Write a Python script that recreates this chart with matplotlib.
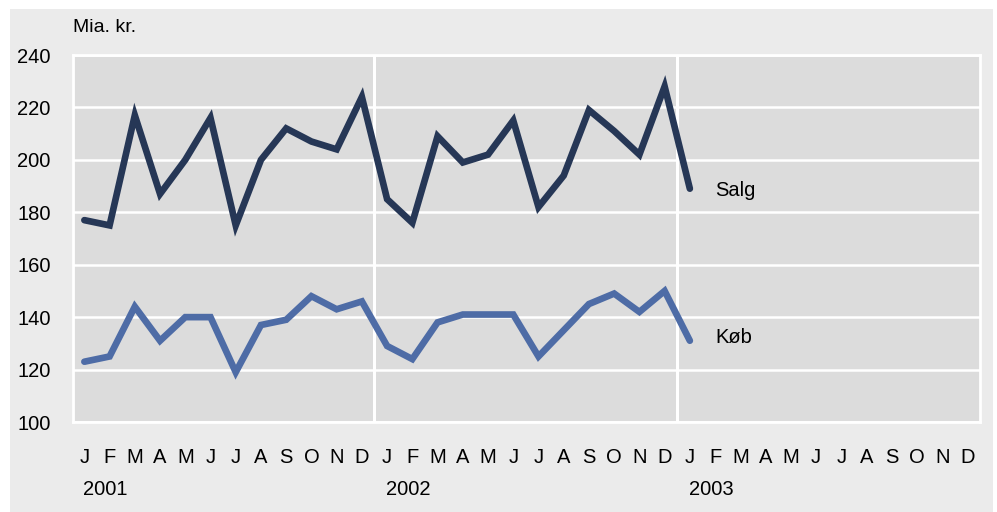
import matplotlib
matplotlib.use("Agg")
from matplotlib import pyplot as plt
from matplotlib.patches import Rectangle

plt.rcParams['font.family'] = ['Liberation Sans', 'DejaVu Sans']

# monthly values, Jan 2001 - Jan 2003
salg = [177, 175, 217, 187, 200, 216, 175, 200, 212, 207, 204, 224,
        185, 176, 209, 199, 202, 215, 182, 194, 219, 211, 202, 228,
        189]
koeb = [123, 125, 144, 131, 140, 140, 119, 137, 139, 148, 143, 146,
        129, 124, 138, 141, 141, 141, 125, 135, 145, 149, 142, 150,
        131]
months = ["J", "F", "M", "A", "M", "J", "J", "A", "S", "O", "N", "D"] * 3
years = ["2001", "2002", "2003"]
yticks = [100, 120, 140, 160, 180, 200, 220, 240]

W, H = 997, 512
fig = plt.figure(figsize=(W / 100, H / 100), dpi=100, facecolor="white")
fig.patches.append(Rectangle((10 / W, 0), 983 / W, 503 / H, transform=fig.transFigure,
                             facecolor="#ebebeb", edgecolor="none", zorder=-5))

ax = fig.add_axes([73 / W, (H - 422) / H, (980 - 73) / W, (422 - 55) / H])
ax.set_zorder(2)
ax.set_facecolor("#dcdcdc")
for s in ax.spines.values():
    s.set_color("white")
    s.set_linewidth(2)

x = list(range(len(salg)))
ax.plot(x, salg, color="#263756", lw=4.8, solid_capstyle="round", solid_joinstyle="miter", zorder=3)
ax.plot(x, koeb, color="#4e6ca6", lw=4.8, solid_capstyle="round", solid_joinstyle="miter", zorder=3)

ax.set_xlim(-0.45, 35.5)
ax.set_ylim(100, 240)
ax.set_yticks(yticks)
ax.set_yticklabels([str(v) for v in yticks], fontsize=14.5)
ax.set_xticks(range(36))
ax.set_xticklabels(months, fontsize=14.5)
ax.tick_params(length=0)
ax.tick_params(axis="y", pad=16)
ax.tick_params(axis="x", pad=19)
ax.grid(axis="y", color="white", lw=1.8)
for xv in (11.5, 23.5):
    ax.axvline(xv, color="white", lw=2.2, zorder=1)
ax.set_axisbelow(True)

for i, yr in enumerate(years):
    ax.text(i * 12 - 0.05, -0.183, yr, transform=ax.get_xaxis_transform(),
            fontsize=14.5, ha="left", va="center")

ax.text(25.0, salg[-1] - 0.5, "Salg", fontsize=14.5, va="center", ha="left")
ax.text(25.0, koeb[-1] + 1.4, "Køb", fontsize=14.5, va="center", ha="left")
fig.text(73 / W, 1 - 27 / H, "Mia. kr.", fontsize=14, va="center", ha="left")

fig.savefig("out.png", dpi=100, facecolor="white")
